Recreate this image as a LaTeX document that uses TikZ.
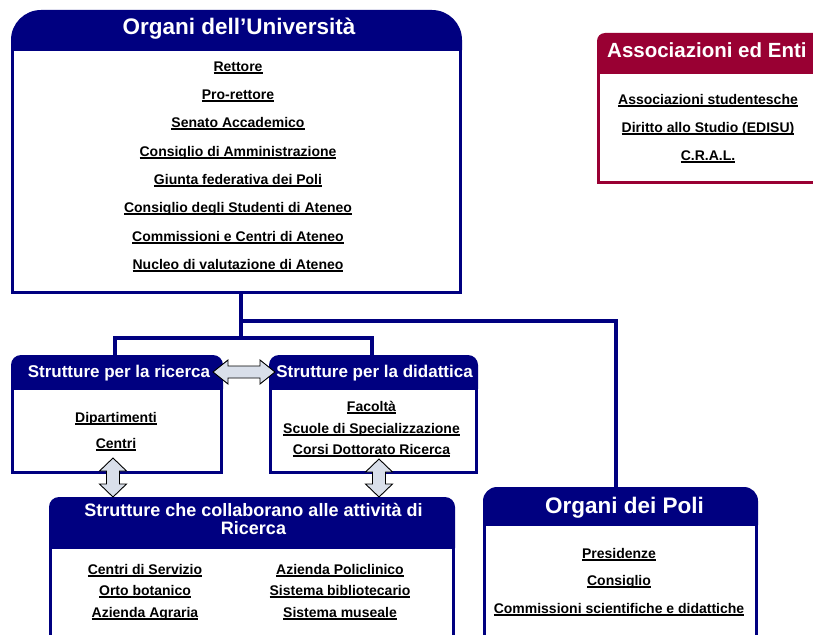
\documentclass[tikz,border=0pt]{standalone}
\usepackage{fontspec}
\setmainfont{Liberation Sans}
\definecolor{navyhd}{RGB}{0,0,128}
\definecolor{maroonhd}{RGB}{153,0,51}
\definecolor{arrowfill}{RGB}{217,223,234}
\newsavebox\ulbox
\newcommand\ulx[1]{\sbox\ulbox{#1}\rlap{\rule[-2.6pt]{\wd\ulbox}{1.2pt}}\usebox\ulbox}
% name, L, T, R, B, header bottom, radius, colour
\newcommand\panelbox[8]{%
  \node[inner sep=0, outer sep=0, minimum width={(#4-#2)*1pt}, minimum height={(#5-#3)*1pt}] (#1) at ({(#2+#4)/2},{(#3+#5)/2}) {};
  \fill[#8, rounded corners=#7] (#2,#3) rectangle (#4,{#6+#7+2});
  \draw[#8, line width=3pt, fill=white] ({#2+1.5},{#6+1.5}) rectangle ({#4-1.5},{#5-1.5});
}
\newcommand\fatH[3]{% x1 x2 y
  \filldraw[fatarrow] (#1,#3) -- ({#1+15},{#3-12}) -- ({#1+15},{#3-6}) -- ({#2-15},{#3-6}) -- ({#2-15},{#3-12}) -- (#2,#3) -- ({#2-15},{#3+12}) -- ({#2-15},{#3+6}) -- ({#1+15},{#3+6}) -- ({#1+15},{#3+12}) -- cycle;}
\newcommand\fatV[3]{% x y1 y2
  \filldraw[fatarrow] (#1,#2) -- ({#1+13.5},{#2+13}) -- ({#1+6.5},{#2+13}) -- ({#1+6.5},{#3-13}) -- ({#1+13.5},{#3-13}) -- (#1,#3) -- ({#1-13.5},{#3-13}) -- ({#1-6.5},{#3-13}) -- ({#1-6.5},{#2+13}) -- ({#1-13.5},{#2+13}) -- cycle;}
\tikzset{
  item/.style={anchor=base, inner sep=0, text=black, font=\fontsize{14}{16}\selectfont\bfseries},
  ttl/.style={anchor=base, inner sep=0, text=white, font=\fontsize{#1}{#1}\selectfont\bfseries},
  link/.style={draw=navyhd, line width=4pt},
  fatarrow/.style={draw=black, line width=0.9pt, fill=arrowfill, line join=miter},
}
\begin{document}
\begin{tikzpicture}[x=1pt, y=-1pt]
\useasboundingbox (0,0) rectangle (813,634);
\clip (0,0) rectangle (813,634);
\fill[white] (0,0) rectangle (813,634);

\coordinate (j1) at (241,321);
\coordinate (j2) at (241,338);
\coordinate (polin) at (616,487);

\panelbox{univ}{11}{10}{462}{294}{48}{30}{navyhd}
\panelbox{assoc}{597}{33}{830}{184}{71}{8}{maroonhd}
\panelbox{ric}{11}{355}{223}{474}{387}{10}{navyhd}
\panelbox{did}{269}{355}{478}{474}{387}{10}{navyhd}
\panelbox{collab}{49}{497}{455}{650}{546}{10}{navyhd}
\panelbox{poli}{483}{487}{758}{650}{523}{14}{navyhd}

\draw[link] (j1 |- univ.south) -- (j2);
\draw[link] (j1) -| (polin);
\draw[link] ([xshift=-2pt]ric.north) |- (j2) -| ([xshift=-1.5pt]did.north);

% titles
\node[ttl=22.5] (tuniv) at (239,35) {Organi dell’Università};
\node[ttl=20.5, anchor=base west] (tassoc) at (607,57) {Associazioni ed Enti};
\node[ttl=17] (tric) at (119,377) {Strutture per la ricerca};
\node[ttl=17] (tdid) at (374.5,377) {Strutture per la didattica};
\node[ttl=18] (tcol1) at (253.5,516) {Strutture che collaborano alle attività di};
\node[ttl=18] (tcol2) at (253.5,534) {Ricerca};
\node[ttl=22.5] (tpoli) at (624.5,513) {Organi dei Poli};

% items
\node[item] (u1) at (238,71) {\ulx{Rettore}};
\node[item] (u2) at (238,99) {\ulx{Pro-rettore}};
\node[item] (u3) at (238,127) {\ulx{Senato Accademico}};
\node[item] (u4) at (238,156) {\ulx{Consiglio di Amministrazione}};
\node[item] (u5) at (238,184) {\ulx{Giunta federativa dei Poli}};
\node[item] (u6) at (238,212) {\ulx{Consiglio degli Studenti di Ateneo}};
\node[item] (u7) at (238,241) {\ulx{Commissioni e Centri di Ateneo}};
\node[item] (u8) at (238,269) {\ulx{Nucleo di valutazione di Ateneo}};

\node[item] (a1) at (708,104) {\ulx{Associazioni studentesche}};
\node[item] (a2) at (708,132) {\ulx{Diritto allo Studio (EDISU)}};
\node[item] (a3) at (708,160) {\ulx{C.R.A.L.}};

\node[item] (r1) at (116,422) {\ulx{Dipartimenti}};
\node[item] (r2) at (116,448) {\ulx{Centri}};

\node[item] (d1) at (371.5,411) {\ulx{Facoltà}};
\node[item] (d2) at (371.5,433) {\ulx{Scuole di Specializzazione}};
\node[item] (d3) at (371.5,454) {\ulx{Corsi Dottorato Ricerca}};

\node[item] (c1) at (145,574) {\ulx{Centri di Servizio}};
\node[item] (c2) at (145,595) {\ulx{Orto botanico}};
\node[item] (c3) at (145,617) {\ulx{Azienda Agraria}};
\node[item] (c4) at (340,574) {\ulx{Azienda Policlinico}};
\node[item] (c5) at (340,595) {\ulx{Sistema bibliotecario}};
\node[item] (c6) at (340,617) {\ulx{Sistema museale}};

\node[item] (p1) at (619,558) {\ulx{Presidenze}};
\node[item] (p2) at (619,585) {\ulx{Consiglio}};
\node[item] (p3) at (619,613) {\ulx{Commissioni scientifiche e didattiche}};

% fat double arrows
\fatH{213}{275}{372}
\fatV{113}{458}{497}
\fatV{379}{459}{497}
\end{tikzpicture}
\end{document}
